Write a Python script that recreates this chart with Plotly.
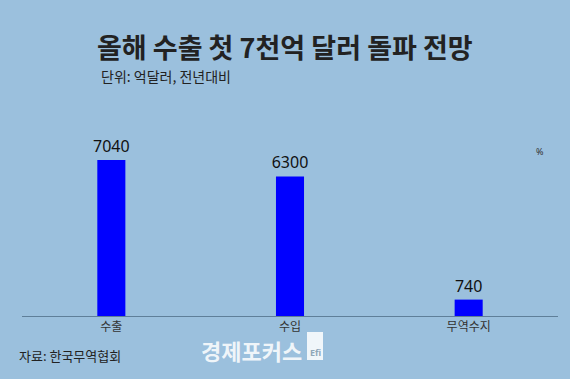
import plotly.graph_objects as go

categories = ["수출", "수입", "무역수지"]
values = [7040, 6300, 740]
value_labels = ["7040", "6300", "740"]

BG = "#9BC0DD"
W, H = 570, 379
l, r, t, b = 22, 12, 130, 63
pw, ph = W - l - r, H - t - b


def px_x(x):
    return (x - l) / pw


def px_y(y):
    return (H - b - y) / ph


fig = go.Figure()
fig.add_trace(go.Bar(
    x=categories, y=values,
    marker=dict(color="#0000FF", line=dict(width=0)),
    text=value_labels, textposition="outside", constraintext="none",
    textfont=dict(family="Noto Sans", size=16, color="#111111"),
    cliponaxis=False,
))


def ann(text, x, y, size, color, family="Noto Sans CJK KR", xanchor="left"):
    return dict(text=text, x=px_x(x), y=px_y(y), xref="paper", yref="paper",
                xanchor=xanchor, yanchor="middle", showarrow=False,
                font=dict(family=family, size=size, color=color))


fig.update_layout(
    width=W, height=H,
    paper_bgcolor=BG, plot_bgcolor=BG,
    margin=dict(l=l, r=r, t=t, b=b),
    bargap=0.843,
    showlegend=False,
    xaxis=dict(showgrid=False, showline=True, linecolor="#5F7F99", linewidth=1,
               ticks="", tickfont=dict(family="Noto Sans CJK KR", size=12, color="#333333"),
               fixedrange=True),
    yaxis=dict(range=[0, 8394], showgrid=False, showticklabels=False, zeroline=False,
               showline=False, fixedrange=True),
    shapes=[
        dict(type="rect", xref="paper", yref="paper",
             x0=px_x(307), x1=px_x(323), y0=px_y(360), y1=px_y(332),
             fillcolor="rgba(255,255,255,0.85)", line=dict(width=0), layer="above"),
    ],
    annotations=[
        ann("<b>올해 수출 첫 7천억 달러 돌파 전망</b>", 285, 47, 27, "#222222", xanchor="center"),
        ann("단위: 억달러, 전년대비", 99, 76, 14, "#222222"),
        ann("%", 534, 151, 9, "#333333", family="Noto Sans"),
        ann("자료: 한국무역협회", 17, 355, 13, "#222222"),
        ann("<b>경제포커스</b>", 199, 350, 22, "rgba(255,255,255,0.85)"),
        ann("<b>Efi</b>", 315, 352, 9, "#8FA7B8", family="Noto Sans", xanchor="center"),
    ],
)

fig.write_html("out.html", config={"displayModeBar": False},
               post_script="document.body.style.margin='0';")
